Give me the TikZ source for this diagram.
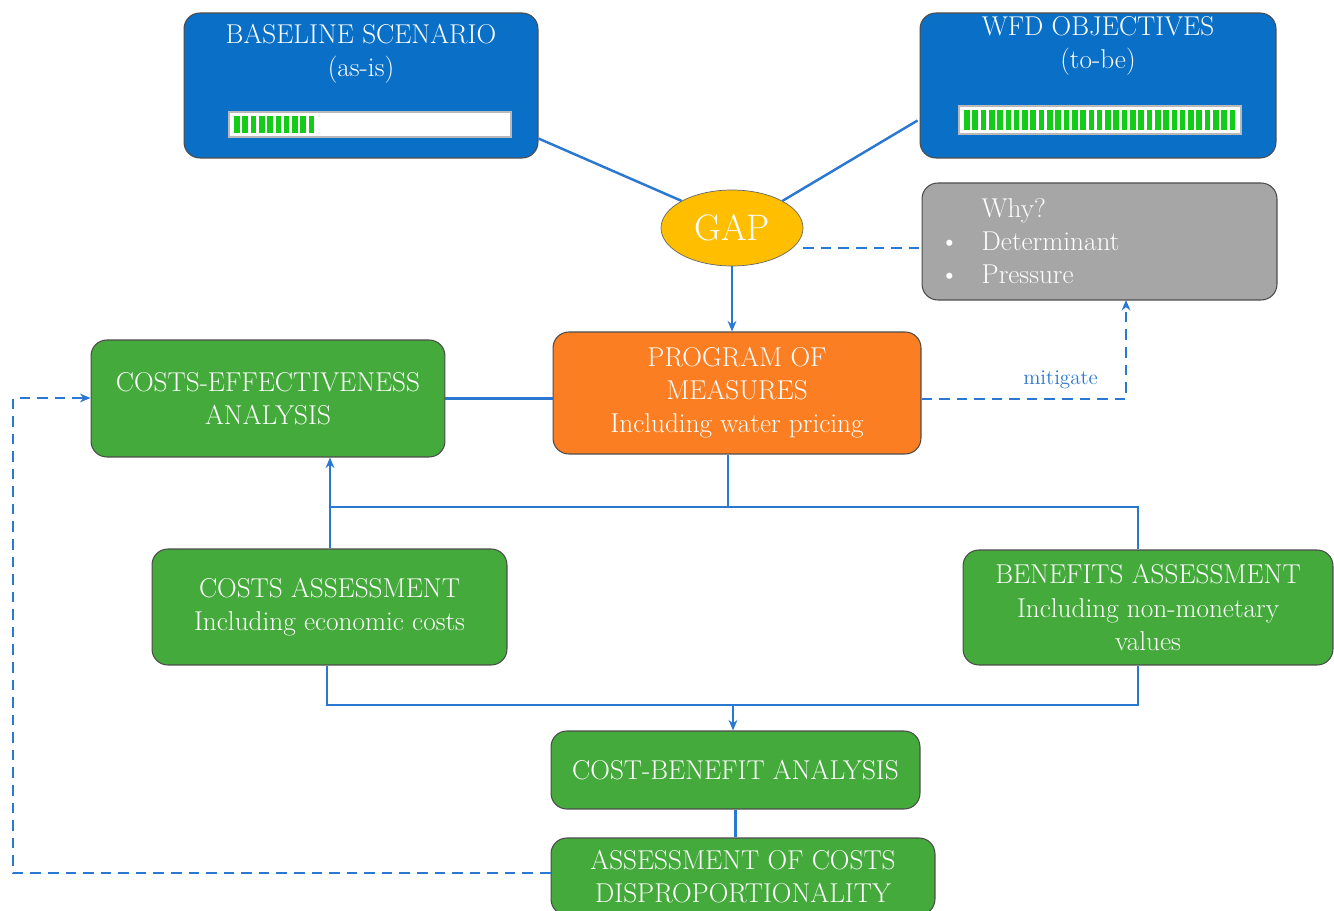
\documentclass[tikz,border=0pt]{standalone}
\usetikzlibrary{arrows.meta, positioning, shapes.geometric}
\definecolor{boxblue}{HTML}{0A6FC6}
\definecolor{boxgreen}{HTML}{45AA3C}
\definecolor{boxorange}{HTML}{FB7E22}
\definecolor{boxgrey}{HTML}{A6A6A6}
\definecolor{gapyellow}{HTML}{FFBF00}
\definecolor{linkblue}{HTML}{2A78D2}
\definecolor{bargreen}{HTML}{12CC18}
\tikzstyle{box}=[draw=black!70, rounded corners=9pt, inner sep=0pt, line width=0.6pt, text=white, align=center, font=\fontsize{15.5}{18.8}\selectfont]
\tikzstyle{link}=[draw=linkblue, line width=1.4pt, >={Stealth[length=6pt,width=5pt]}]
\tikzstyle{dlink}=[link, dash pattern=on 6pt off 4pt]
\tikzstyle{barframe}=[draw=gray!55, fill=white, line width=1.5pt]

\begin{document}
\begin{tikzpicture}[x=0.02cm, y=-0.02cm]
  \useasboundingbox (0,0) rectangle (1334,911);
  \clip (0,0) rectangle (1334,911);
  % top row
  \node[box, fill=boxblue, minimum width=7.08cm, minimum height=2.9cm] (base) at (361,85.5) {};
  \node[box, draw=none, fill=none] (baset) at (361,54) {BASELINE SCENARIO\\(as-is)};
  \node[box, fill=boxblue, minimum width=7.12cm, minimum height=2.9cm] (wfd) at (1098,85.5) {};
  \node[box, draw=none, fill=none] (wfdt) at (1098,46) {WFD OBJECTIVES\\(to-be)};
  % progress bars
  \draw[barframe] (229,112) rectangle (511,137);
  \foreach \i in {0,...,9}
    \fill[bargreen] (234+8.3*\i,116) rectangle +(5.6,17);
  \draw[barframe] (959,106) rectangle (1241,134);
  \foreach \i in {0,...,32}
    \fill[bargreen] (964+8.3*\i,110) rectangle +(5.6,20);
  % gap and why
  \node[ellipse, draw=black!60, fill=gapyellow, text=white, minimum width=2.84cm, minimum height=1.52cm, inner sep=0pt, font=\fontsize{21}{24}\selectfont] (gap) at (732,228) {GAP};
  \node[box, fill=boxgrey, minimum width=7.1cm, minimum height=2.34cm] (why) at (1099.5,241.5) {};
  \node[box, draw=none, fill=none, align=left, anchor=west] (whyt) at (939,241)
    {\makebox[24pt][l]{}Why?\\\makebox[24pt][l]{\textbullet}Determinant\\\makebox[24pt][l]{\textbullet}Pressure};
  % middle row
  \node[box, fill=boxorange, minimum width=7.36cm, minimum height=2.44cm] (pom) at (737,393) {PROGRAM OF\\MEASURES\\Including water pricing};
  \node[box, fill=boxgreen, minimum width=7.08cm, minimum height=2.34cm] (cea) at (268,398.5) {COSTS-EFFECTIVENESS\\ANALYSIS};
  \node[box, fill=boxgreen, minimum width=7.1cm, minimum height=2.32cm] (cost) at (329.5,607) {COSTS ASSESSMENT\\Including economic costs};
  \node[box, fill=boxgreen, minimum width=7.4cm, minimum height=2.3cm] (ben) at (1148,607.5) {BENEFITS ASSESSMENT\\Including non-monetary\\values};
  % bottom
  \node[box, fill=boxgreen, minimum width=7.38cm, minimum height=1.56cm] (cba) at (735.5,770) {COST-BENEFIT ANALYSIS};
  \node[box, fill=boxgreen, minimum width=7.68cm, minimum height=1.54cm] (adc) at (743,876.5) {ASSESSMENT OF COSTS\\DISPROPORTIONALITY};
  % connectors
  \coordinate (pj) at (728,507);
  \coordinate (cj) at (330,507);
  \coordinate (bj) at (1138,507);
  \coordinate (lj) at (327,705);
  \coordinate (rj) at (1138,705);
  \coordinate (mj) at (733,705);
  \draw[link] (base.south east) ++(0,-20) -- (gap.north west);
  \draw[link] (wfd.west) ++(-2,35) -- (gap.north east);
  \draw[link, ->] (gap.south) -- (gap.south |- pom.north);
  \draw[dlink] (gap.east |- 0,248) -- (why.west |- 0,248);
  \draw[dlink, ->] (pom.east |- 0,399) -- (1126,399) node[pos=0.68, above=2pt, text=linkblue, font=\fontsize{12}{14}\selectfont] {mitigate} -- (1126,300);
  \draw[link] (cea.east) -- (pom.west |- cea.east);
  \draw[link] (pj |- pom.south) -- (pj);
  \draw[link] (cj) -- (bj) -- (ben.north -| bj);
  \draw[link, ->] (cost.north -| cj) -- (cea.south -| cj);
  \draw[link] (cost.south -| lj) -- (lj) -- (rj) -- (ben.south -| rj);
  \draw[link, ->] (mj) -- (cba.north -| mj);
  \draw[link] (cba.south) -- (adc.north -| cba.south);
  \draw[dlink, ->] (adc.west |- 0,873) -- (13,873) -- (13,398) -- (cea.west |- 0,398);
\end{tikzpicture}
\end{document}
